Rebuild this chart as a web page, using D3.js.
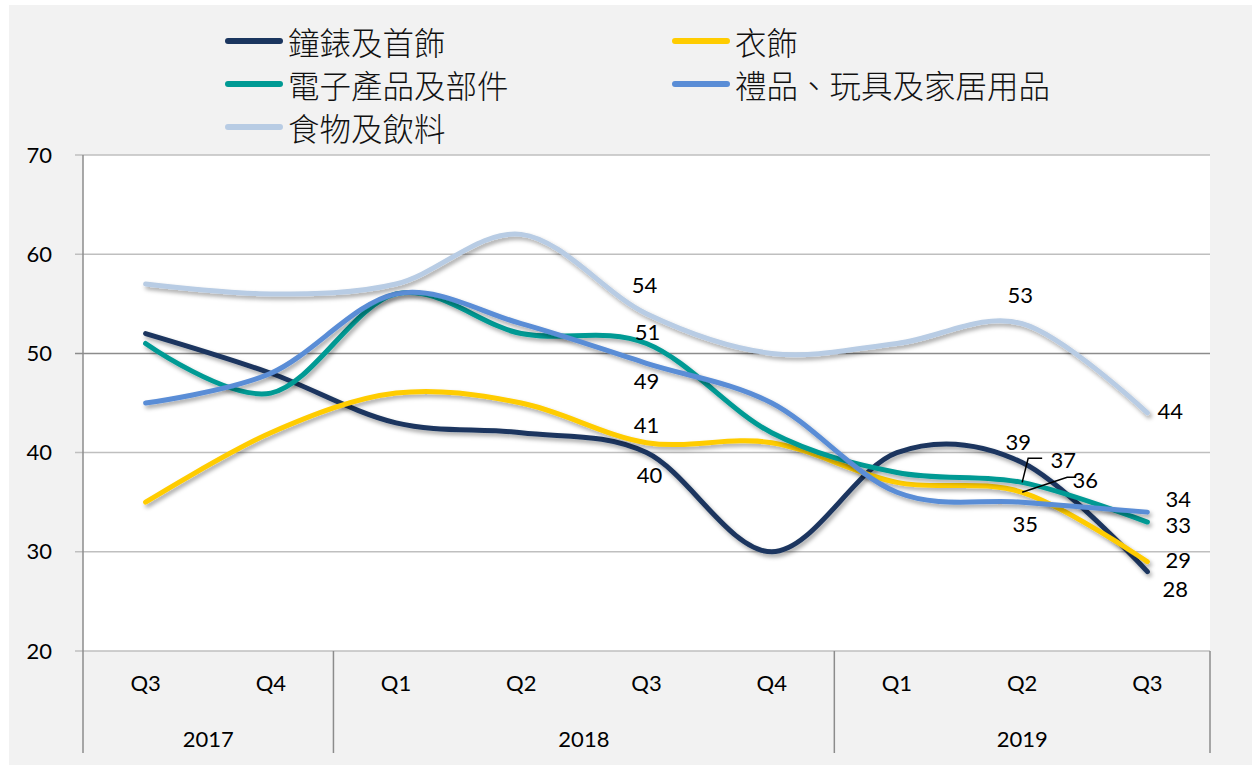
<!DOCTYPE html>
<html>
<head>
<meta charset="utf-8">
<script src="https://cdn.jsdelivr.net/npm/d3@7"></script>
<style>
  body { margin: 0; background: #fff; }
  svg { display: block; }
</style>
</head>
<body>
<div id="chart"></div>
<script>
// data
const periods = ['2017Q3', '2017Q4', '2018Q1', '2018Q2', '2018Q3', '2018Q4', '2019Q1', '2019Q2', '2019Q3'];
const quarterLabels = ['Q3', 'Q4', 'Q1', 'Q2', 'Q3', 'Q4', 'Q1', 'Q2', 'Q3'];
const years = [
  { year: '2017', from: 0, to: 1 },
  { year: '2018', from: 2, to: 5 },
  { year: '2019', from: 6, to: 8 }
];
const seriesNames = ['鐘錶及首飾', '衣飾', '電子產品及部件', '禮品、玩具及家居用品', '食物及飲料'];
const watches   = [52, 48, 43, 42, 40, 30, 40, 39, 28];
const clothing  = [35, 42, 46, 45, 41, 41, 37, 36, 29];
const electrons = [51, 46, 56, 52, 51, 42, 38, 37, 33];
const gifts     = [45, 48, 56, 53, 49, 45, 36, 35, 34];
const food      = [57, 56, 57, 62, 54, 50, 51, 53, 44];
const seriesValues = [watches, clothing, electrons, gifts, food];
const colors = ['#1b365f', '#ffcc00', '#009a94', '#5a8dd6', '#b8cce4'];
const yTicks = [20, 30, 40, 50, 60, 70];

// labels shown on the chart: series index, period index, offset of the label
const pointLabels = [
  [4, 4, -2, -29], [2, 4, 1, -12], [3, 4, 0, 17], [1, 4, 0, -18], [0, 4, 3, 22],
  [4, 7, -2, -29], [0, 7, -4, -21], [2, 7, 41, -23], [1, 7, 63, -13], [3, 7, 3, 21],
  [4, 8, 23, -2], [3, 8, 31, -14], [2, 8, 31, 2], [1, 8, 31, -2], [0, 8, 28, 17]
];
// leader lines for crowded labels
const leaders = [
  [2, 7, [[0, 0], [6, -24], [20, -24]]],
  [1, 7, [[0, 0], [45, -15], [54, -15]]]
];

const W = 1252, H = 765;
const plot = { left: 83, right: 1210, top: 155, bottom: 651 };
const font = 'Lato, "Open Sans", sans-serif';
const cjk = '"Noto Sans CJK TC", "Noto Sans CJK SC", sans-serif';

const svg = d3.select('#chart').append('svg')
  .attr('width', W)
  .attr('height', H);

const defs = svg.append('defs');
const shadow = defs.append('filter')
  .attr('id', 'shadow')
  .attr('x', '-10%').attr('y', '-10%')
  .attr('width', '120%').attr('height', '130%');
shadow.append('feDropShadow')
  .attr('dx', 2).attr('dy', 3)
  .attr('stdDeviation', 2)
  .attr('flood-color', '#000')
  .attr('flood-opacity', 0.35);

// backgrounds
svg.append('rect')
  .attr('x', 9).attr('y', 5)
  .attr('width', W - 9).attr('height', H - 5)
  .attr('fill', '#f2f2f2');
svg.append('rect')
  .attr('x', plot.left).attr('y', plot.top)
  .attr('width', plot.right - plot.left)
  .attr('height', plot.bottom - plot.top)
  .attr('fill', '#fff');

const xScale = d3.scaleBand()
  .domain(periods)
  .range([plot.left, plot.right]);
const xc = (i) => xScale(periods[i]) + xScale.bandwidth() / 2;

const yScale = d3.scaleLinear()
  .domain([20, 70])
  .range([plot.bottom, plot.top]);

// gridlines
svg.append('g')
  .selectAll('line')
  .data(yTicks)
  .enter()
  .append('line')
  .attr('x1', plot.left - 8)
  .attr('x2', plot.right)
  .attr('y1', (d) => yScale(d))
  .attr('y2', (d) => yScale(d))
  .attr('stroke', (d) => d === 50 ? '#8c8c8c' : '#bfbfbf')
  .attr('stroke-width', 1.5);

// y axis
const yAxis = svg.append('g')
  .attr('transform', 'translate(' + plot.left + ',0)')
  .call(d3.axisLeft(yScale).tickValues(yTicks).tickSize(0).tickPadding(31));
yAxis.select('.domain').remove();
yAxis.selectAll('text')
  .style('font-family', font)
  .style('font-size', '22px')
  .attr('fill', '#000');

svg.append('line')
  .attr('x1', plot.left).attr('x2', plot.left)
  .attr('y1', plot.top).attr('y2', 753)
  .attr('stroke', '#8c8c8c')
  .attr('stroke-width', 1.5);

// x axis (two levels)
const xAxis = svg.append('g')
  .attr('transform', 'translate(0,' + plot.bottom + ')')
  .call(d3.axisBottom(xScale).tickSize(0).tickPadding(24).tickFormat((d, i) => quarterLabels[i]));
xAxis.select('.domain').remove();
xAxis.selectAll('text')
  .style('font-family', font)
  .style('font-size', '22px')
  .attr('fill', '#000');

const separators = [years[1].from, years[2].from, periods.length];
svg.append('g')
  .selectAll('line')
  .data(separators)
  .enter()
  .append('line')
  .attr('x1', (d) => d < periods.length ? xScale(periods[d]) : plot.right)
  .attr('x2', (d) => d < periods.length ? xScale(periods[d]) : plot.right)
  .attr('y1', plot.bottom)
  .attr('y2', 753)
  .attr('stroke', '#8c8c8c')
  .attr('stroke-width', 1.5);

svg.append('g')
  .selectAll('text')
  .data(years)
  .enter()
  .append('text')
  .attr('x', (d) => (xScale(periods[d.from]) + xScale(periods[d.to]) + xScale.bandwidth()) / 2)
  .attr('y', 738)
  .attr('text-anchor', 'middle')
  .attr('dominant-baseline', 'central')
  .style('font-family', font)
  .style('font-size', '22px')
  .text((d) => d.year);

// lines
const line = d3.line()
  .x((d, i) => xc(i))
  .y((d) => yScale(d))
  .curve(d3.curveCardinal.tension(0));

svg.append('g')
  .selectAll('path')
  .data(seriesValues)
  .enter()
  .append('path')
  .attr('d', line)
  .attr('fill', 'none')
  .attr('stroke', (d, i) => colors[i])
  .attr('stroke-width', 5)
  .attr('stroke-linecap', 'round')
  .attr('filter', 'url(#shadow)');

// leader lines
svg.append('g')
  .selectAll('polyline')
  .data(leaders)
  .enter()
  .append('polyline')
  .attr('points', (d) => d[2].map((p) => (xc(d[1]) + p[0]) + ',' + (yScale(seriesValues[d[0]][d[1]]) + p[1])).join(' '))
  .attr('fill', 'none')
  .attr('stroke', '#000')
  .attr('stroke-width', 1.5);

// data labels
svg.append('g')
  .selectAll('text')
  .data(pointLabels)
  .enter()
  .append('text')
  .attr('x', (d) => xc(d[1]) + d[2])
  .attr('y', (d) => yScale(seriesValues[d[0]][d[1]]) + d[3])
  .attr('text-anchor', 'middle')
  .attr('dominant-baseline', 'central')
  .style('font-family', font)
  .style('font-size', '22px')
  .attr('fill', '#000')
  .text((d) => seriesValues[d[0]][d[1]]);

// legend
const legendPos = [[226, 41], [673, 41], [226, 84], [673, 84], [226, 127]];
const legend = svg.append('g')
  .selectAll('g')
  .data(seriesNames)
  .enter()
  .append('g')
  .attr('transform', (d, i) => 'translate(' + legendPos[i][0] + ',' + legendPos[i][1] + ')');
legend.append('line')
  .attr('x1', 2).attr('x2', 54)
  .attr('stroke', (d, i) => colors[i])
  .attr('stroke-width', 6)
  .attr('stroke-linecap', 'round');
legend.append('text')
  .attr('x', 62)
  .attr('dominant-baseline', 'central')
  .style('font-family', cjk)
  .style('font-size', '31.5px')
  .style('font-weight', 300)
  .attr('fill', '#111')
  .text((d) => d);
</script>
</body>
</html>
